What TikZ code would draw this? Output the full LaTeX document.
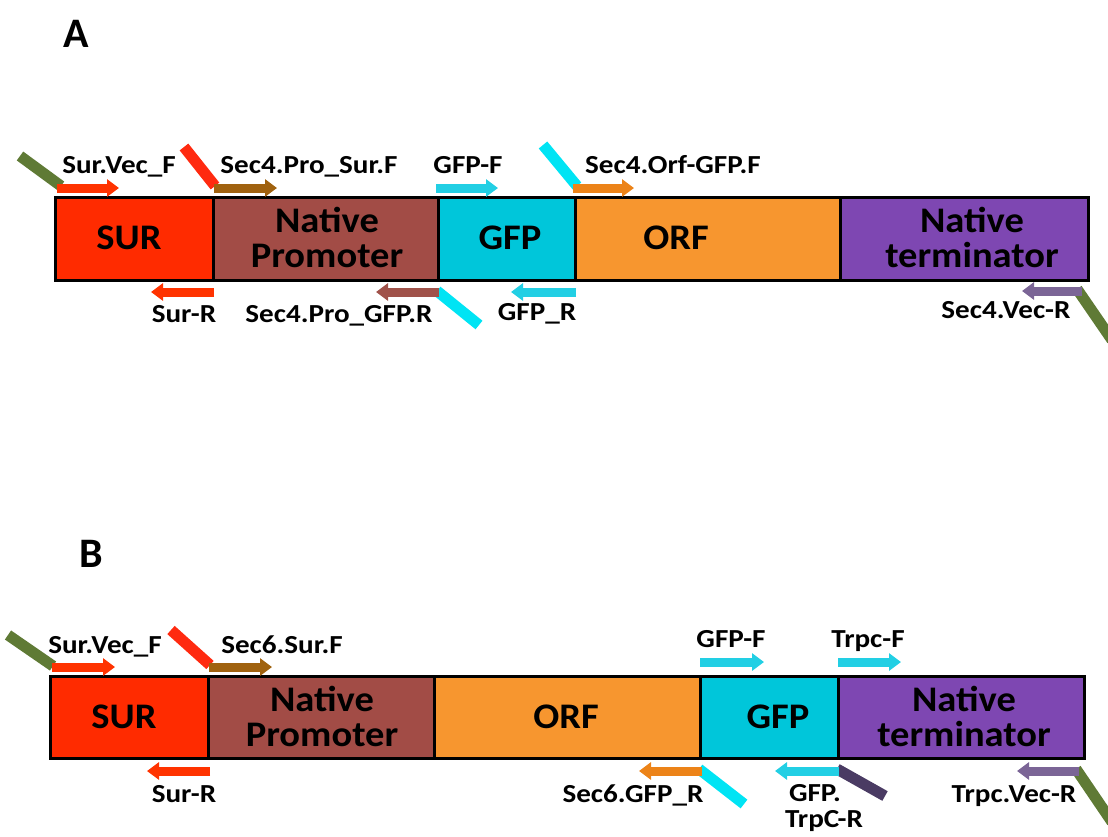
\documentclass[tikz,border=0pt]{standalone}
\usepackage{fontspec}
\setmainfont{Carlito}
\usetikzlibrary{arrows.meta}

\definecolor{surred}{HTML}{FF2B00}
\definecolor{promred}{HTML}{A24C46}
\definecolor{gfpcyan}{HTML}{00C6DA}
\definecolor{orforange}{HTML}{F7962F}
\definecolor{termpurple}{HTML}{7E47B2}
\definecolor{arrred}{HTML}{FF3300}
\definecolor{arrbrown}{HTML}{A0620F}
\definecolor{arrcyan}{HTML}{22CFE4}
\definecolor{arrorange}{HTML}{EC8318}
\definecolor{arrprom}{HTML}{A0524A}
\definecolor{arrgray}{HTML}{7B6596}
\definecolor{tailolive}{HTML}{5F7A35}
\definecolor{tailred}{HTML}{FF2A10}
\definecolor{tailcyan}{HTML}{00E4F4}
\definecolor{taildark}{HTML}{4A3B63}

\newcommand\primerfont{\bfseries\fontsize{26}{27}\selectfont}
\newcommand\boxfont{\bfseries\fontsize{36}{35}\selectfont}
\newcommand\wtxt[1]{\scalebox{1.12}[1]{#1}}
\newcommand\btxt[1]{\scalebox{1.07}[1]{#1}}

\tikzset{
  segment/.style={draw=black, line width=3pt},
  seglabel/.style={font=\boxfont, align=center, inner sep=0pt},
  primerlabel/.style={font=\primerfont, anchor=base, inner sep=0pt},
  primer/.style={line width=9pt, -{Triangle[length=12pt,width=17pt]}},
  tail/.style={line width=11pt, line cap=butt},
  panel/.style={font=\bfseries\fontsize{42}{42}\selectfont, inner sep=0pt}
}

\begin{document}
\begin{tikzpicture}[x=1pt, y=-1pt]
\useasboundingbox (0,0) rectangle (1108,836);

% ---------- panel letters ----------
\node[panel] (lblA) at (76,34) {A};
\node[panel] (lblB) at (91,554) {B};

% ================= construct A =================
\filldraw[segment, fill=surred]     (55,197)  rectangle (213,280);
\filldraw[segment, fill=promred]    (213,197) rectangle (438,280);
\filldraw[segment, fill=gfpcyan]    (438,197) rectangle (575,280);
\filldraw[segment, fill=orforange]  (575,197) rectangle (840,280);
\filldraw[segment, fill=termpurple] (840,197) rectangle (1088,280);
\draw[line width=3pt] (55,197) rectangle (1088,280);

\node[seglabel] (aSUR)  at (129,238) {\btxt{SUR}};
\node[seglabel] (aPROM) at (327,237) {\btxt{Native}\\\btxt{Promoter}};
\node[seglabel] (aGFP)  at (510,238) {\btxt{GFP}};
\node[seglabel] (aORF)  at (676,238) {\btxt{ORF}};
\node[seglabel] (aTERM) at (972,237) {\btxt{Native}\\\btxt{terminator}};

% forward primers
\coordinate (aF1s) at (57,188);  \coordinate (aF1e) at (119,188);
\coordinate (aF2s) at (214,188); \coordinate (aF2e) at (277,188);
\coordinate (aF3s) at (436,188); \coordinate (aF3e) at (498,188);
\coordinate (aF4s) at (573,188); \coordinate (aF4e) at (634,188);
\draw[tail, tailolive] (20,156) -- (61,186);
\draw[tail, tailred] (184,147) -- (215,186);
\draw[tail, tailcyan] (543,145) -- (577,186);
\draw[primer, arrred]    (aF1s) -- (aF1e);
\draw[primer, arrbrown]  (aF2s) -- (aF2e);
\draw[primer, arrcyan]   (aF3s) -- (aF3e);
\draw[primer, arrorange] (aF4s) -- (aF4e);
\node[primerlabel] (aL1) at (119,173) {\wtxt{Sur.Vec\_F}};
\node[primerlabel] (aL2) at (309,173) {\wtxt{Sec4.Pro\_Sur.F}};
\node[primerlabel] (aL3) at (468,173) {\wtxt{GFP-F}};
\node[primerlabel] (aL4) at (673,173) {\wtxt{Sec4.Orf-GFP.F}};

% reverse primers
\coordinate (aR1s) at (214,292); \coordinate (aR1e) at (151,292);
\coordinate (aR2s) at (439,292); \coordinate (aR2e) at (376,292);
\coordinate (aR3s) at (576,292); \coordinate (aR3e) at (511,292);
\coordinate (aR4s) at (1082,291); \coordinate (aR4e) at (1022,291);
\draw[tail, tailcyan]  (437,291) -- (479,325);
\draw[tail, tailolive] (1077,289) -- (1112,340);
\draw[primer, arrred]    (aR1s) -- (aR1e);
\draw[primer, arrprom]   (aR2s) -- (aR2e);
\draw[primer, arrcyan]   (aR3s) -- (aR3e);
\draw[primer, arrgray]   (aR4s) -- (aR4e);
\node[primerlabel] (aL5) at (184,322) {\wtxt{Sur-R}};
\node[primerlabel] (aL6) at (339,322) {\wtxt{Sec4.Pro\_GFP.R}};
\node[primerlabel] (aL7) at (537,320) {\wtxt{GFP\_R}};
\node[primerlabel] (aL8) at (1006,318) {\wtxt{Sec4.Vec-R}};

% ================= construct B =================
\filldraw[segment, fill=surred]     (50,676)  rectangle (208,758);
\filldraw[segment, fill=promred]    (208,676) rectangle (434,758);
\filldraw[segment, fill=orforange]  (434,676) rectangle (700,758);
\filldraw[segment, fill=gfpcyan]    (700,676) rectangle (838,758);
\filldraw[segment, fill=termpurple] (838,676) rectangle (1084,758);
\draw[line width=3pt] (50,676) rectangle (1084,758);

\node[seglabel] (bSUR)  at (124,717) {\btxt{SUR}};
\node[seglabel] (bPROM) at (322,716) {\btxt{Native}\\\btxt{Promoter}};
\node[seglabel] (bORF)  at (566,717) {\btxt{ORF}};
\node[seglabel] (bGFP)  at (778,717) {\btxt{GFP}};
\node[seglabel] (bTERM) at (964,716) {\btxt{Native}\\\btxt{terminator}};

% forward primers
\coordinate (bF1s) at (52,667);  \coordinate (bF1e) at (115,667);
\coordinate (bF2s) at (209,667); \coordinate (bF2e) at (272,667);
\coordinate (bF3s) at (700,662); \coordinate (bF3e) at (764,662);
\coordinate (bF4s) at (838,662); \coordinate (bF4e) at (901,662);
\draw[tail, tailolive] (8,635) -- (53,666);
\draw[tail, tailred] (171,630) -- (210,665);
\draw[primer, arrred]    (bF1s) -- (bF1e);
\draw[primer, arrbrown]  (bF2s) -- (bF2e);
\draw[primer, arrcyan]   (bF3s) -- (bF3e);
\draw[primer, arrcyan]   (bF4s) -- (bF4e);
\node[primerlabel] (bL1) at (105,653) {\wtxt{Sur.Vec\_F}};
\node[primerlabel] (bL2) at (282,653) {\wtxt{Sec6.Sur.F}};
\node[primerlabel] (bL3) at (731,647) {\wtxt{GFP-F}};
\node[primerlabel] (bL4) at (868,647) {\wtxt{Trpc-F}};

% reverse primers
\coordinate (bR1s) at (210,771); \coordinate (bR1e) at (147,771);
\coordinate (bR2s) at (702,771); \coordinate (bR2e) at (639,771);
\coordinate (bR3s) at (839,771); \coordinate (bR3e) at (775,771);
\coordinate (bR4s) at (1079,771); \coordinate (bR4e) at (1017,771);
\draw[tail, tailcyan]  (699,769) -- (744,804);
\draw[tail, taildark]  (837,769) -- (885,796);
\draw[tail, tailolive] (1076,769) -- (1112,822);
\draw[primer, arrred]    (bR1s) -- (bR1e);
\draw[primer, arrorange] (bR2s) -- (bR2e);
\draw[primer, arrcyan]   (bR3s) -- (bR3e);
\draw[primer, arrgray]   (bR4s) -- (bR4e);
\node[primerlabel] (bL5) at (184,802) {\wtxt{Sur-R}};
\node[primerlabel] (bL6) at (633,802) {\wtxt{Sec6.GFP\_R}};
\node[primerlabel] (bL7) at (815,801) {\wtxt{GFP.}};
\node[primerlabel] (bL8) at (824,827) {\wtxt{TrpC-R}};
\node[primerlabel] (bL9) at (1014,802) {\wtxt{Trpc.Vec-R}};
\end{tikzpicture}
\end{document}
